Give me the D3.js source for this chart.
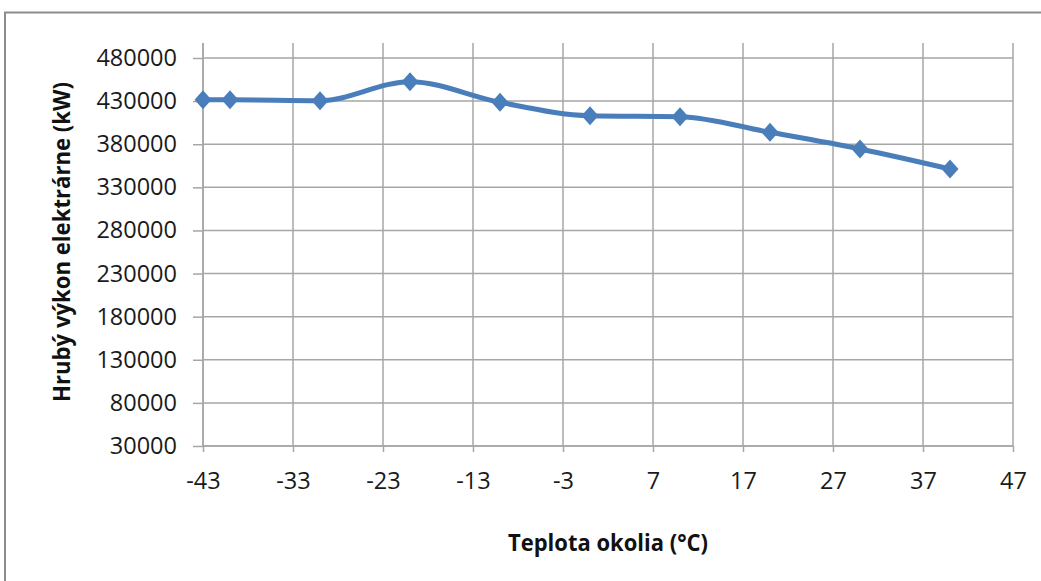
<!DOCTYPE html>
<html>
<head>
<meta charset="utf-8">
<script src="https://cdn.jsdelivr.net/npm/d3@7"></script>
<style>
  html, body { margin: 0; padding: 0; background: #fff; }
  svg { display: block; }
  .tick text { font-family: "Open Sans", "Noto Sans", sans-serif; font-size: 23.5px; fill: #1a1a1a; }
  .title { font-family: "Open Sans", "Noto Sans", sans-serif; font-weight: bold; font-size: 23px; fill: #111; }
</style>
</head>
<body>
<svg id="chart" width="1041" height="581"></svg>
<script>
// Ambient temperature (°C) and gross plant output (kW)
const temperatures = [-43, -40, -30, -20, -10, 0, 10, 20, 30, 40];
const grossOutput = [431500, 431500, 430500, 452500, 428600, 413100, 412000, 393800, 374500, 351300];

// Axis ticks
const xTicks = [-43, -33, -23, -13, -3, 7, 17, 27, 37, 47];
const yTicks = [30000, 80000, 130000, 180000, 230000, 280000, 330000, 380000, 430000, 480000];

const xTitle = "Teplota okolia (°C)";
const yTitle = "Hrubý výkon elektrárne (kW)";

(function draw() {
  const svg = d3.select("#chart");
  const W = 1041, H = 581;

  // Plot area
  const pLeft = 203, pRight = 1013, pBottom = 446, pTop = 43;
  const x = d3.scaleLinear().domain([-43, 47]).range([pLeft, pRight]);
  const y = d3.scaleLinear().domain([30000, 480000]).range([pBottom, 58]);

  const gridColor = "#a6a6a6";

  // Outer frame
  svg.append("path")
    .attr("d", `M5,${H} L5,12.5 L${W},12.5`)
    .attr("fill", "none")
    .attr("stroke", "#8c8c8c")
    .attr("stroke-width", 2);

  // Horizontal gridlines
  svg.append("g")
    .selectAll("line")
    .data(yTicks)
    .join("line")
    .attr("x1", pLeft).attr("x2", pRight)
    .attr("y1", d => y(d)).attr("y2", d => y(d))
    .attr("stroke", gridColor).attr("stroke-width", 1.5);

  // Vertical gridlines
  svg.append("g")
    .selectAll("line")
    .data(xTicks)
    .join("line")
    .attr("x1", d => x(d)).attr("x2", d => x(d))
    .attr("y1", pTop).attr("y2", pBottom)
    .attr("stroke", gridColor).attr("stroke-width", 1.5);

  // Y axis
  const yAxis = svg.append("g")
    .attr("transform", `translate(${pLeft},0)`)
    .call(d3.axisLeft(y).tickValues(yTicks).tickSize(10).tickPadding(16).tickFormat(d3.format("d")));
  yAxis.select(".domain").remove();
  yAxis.append("line").attr("x1", 0).attr("x2", 0).attr("y1", pTop).attr("y2", pBottom)
    .attr("stroke", gridColor).attr("stroke-width", 1.5);
  yAxis.selectAll(".tick line").attr("stroke", gridColor).attr("stroke-width", 1.5);

  // X axis
  const xAxis = svg.append("g")
    .attr("transform", `translate(0,${pBottom})`)
    .call(d3.axisBottom(x).tickValues(xTicks).tickSize(6).tickPadding(20).tickFormat(d3.format("d")));
  xAxis.select(".domain").remove();
  xAxis.append("line").attr("x1", pLeft).attr("x2", pRight).attr("y1", 0).attr("y2", 0)
    .attr("stroke", gridColor).attr("stroke-width", 1.5);
  xAxis.selectAll(".tick line").attr("stroke", gridColor).attr("stroke-width", 1.5);
  xAxis.selectAll(".tick text").text(d => d < 0 ? "-" + Math.abs(d) : d);

  // Series line (smoothed)
  const pts = temperatures.map((t, i) => [t, grossOutput[i]]);
  const line = d3.line()
    .x(d => x(d[0]))
    .y(d => y(d[1]))
    .curve(d3.curveMonotoneX);

  svg.append("path")
    .datum(pts)
    .attr("d", line)
    .attr("fill", "none")
    .attr("stroke", "#4a7ebb")
    .attr("stroke-width", 5)
    .attr("stroke-linejoin", "round");

  // Diamond markers
  svg.append("g")
    .selectAll("path")
    .data(pts)
    .join("path")
    .attr("transform", d => `translate(${x(d[0])},${y(d[1])})`)
    .attr("d", "M0,-9.5 L8.5,0 L0,9.5 L-8.5,0 Z")
    .attr("fill", "#4a7ebb");

  // Axis titles
  svg.append("text")
    .attr("class", "title")
    .attr("x", (pLeft + pRight) / 2)
    .attr("y", 551)
    .attr("text-anchor", "middle")
    .attr("textLength", 200)
    .attr("lengthAdjust", "spacingAndGlyphs")
    .text(xTitle);

  svg.append("text")
    .attr("class", "title")
    .attr("transform", `translate(70,242) rotate(-90)`)
    .attr("text-anchor", "middle")
    .attr("textLength", 320)
    .attr("lengthAdjust", "spacingAndGlyphs")
    .text(yTitle);
})();
</script>
</body>
</html>
